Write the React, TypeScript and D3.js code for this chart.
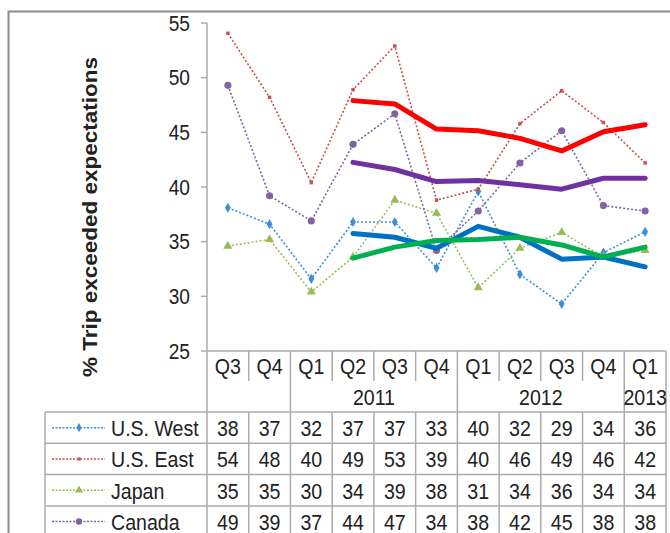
import * as d3 from "d3";

const quarters = ["Q3", "Q4", "Q1", "Q2", "Q3", "Q4", "Q1", "Q2", "Q3", "Q4", "Q1"];
const yearLabels = ["", "", "2011", "2011", "2011", "2011", "2012", "2012", "2012", "2012", "2013"];

const seriesNames = ["U.S. West", "U.S. East", "Japan", "Canada"];
const usWest = [38.1, 36.6, 31.6, 36.8, 36.8, 32.6, 39.6, 32.0, 29.3, 34.0, 35.9];
const usEast = [54.06, 48.2, 40.4, 48.9, 52.9, 38.8, 39.8, 45.8, 48.8, 45.9, 42.2];
const japan = [34.6, 35.2, 30.4, 33.6, 38.8, 37.6, 30.8, 34.4, 35.85, 33.6, 34.2];
const canada = [49.3, 39.2, 36.9, 43.9, 46.7, 34.2, 37.8, 42.2, 45.15, 38.3, 37.8];

// 4-period moving average trendlines
const westTrend = [null, null, null, 35.75, 35.4, 34.4, 36.4, 35.4, 33.4, 33.6, 32.7];
const eastTrend = [null, null, null, 47.9, 47.6, 45.3, 45.15, 44.45, 43.3, 45.05, 45.7];
const japanTrend = [null, null, null, 33.5, 34.5, 35.1, 35.2, 35.4, 34.7, 33.6, 34.5];
const canadaTrend = [null, null, null, 42.25, 41.6, 40.5, 40.6, 40.2, 39.8, 40.8, 40.8];

const yTicks = [25, 30, 35, 40, 45, 50, 55];

const seriesValues = [usWest, usEast, japan, canada];
const trendValues = [westTrend, eastTrend, japanTrend, canadaTrend];
const dotColors = ["#3b8fd8", "#c9504d", "#9bbb59", "#8064a2"];
const trendColors = ["#0070c0", "#ff0000", "#00b050", "#7030a0"];
const symbols = [d3.symbolDiamond, d3.symbolSquare, d3.symbolTriangle, d3.symbolCircle];
const symbolSizes = [30, 12, 36, 40];

const W = 670;
const H = 533;
const SX = 0.87; // text in the picture is a bit narrow
const FONT = "'Liberation Sans', Arial, sans-serif";
const GRID = "#ababab";
const TEXT = "#222";

const plotLeft = 207;
const plotRight = 666;
const headerTop = 351;
const qRowBottom = 381;
const headerBottom = 412;
const rowH = 31.3;
const legendLeft = 45;

const T = ({ x, y, children, anchor = "middle", size = 22.5, weight = "normal" }: any) => (
  <text
    transform={`translate(${x},${y}) scale(${SX},1)`}
    textAnchor={anchor}
    fontSize={size}
    fontWeight={weight}
    fontFamily={FONT}
    fill={TEXT}
  >
    {children}
  </text>
);

export default function App() {
  const x = d3.scaleBand<number>().domain(d3.range(quarters.length)).range([plotLeft, plotRight]);
  const y = d3.scaleLinear().domain([25, 55]).range([headerTop, 23]);
  const cx = (i: number) => (x(i) || 0) + x.bandwidth() / 2;

  const line = d3
    .line<number | null>()
    .defined((d) => d != null)
    .x((_, i) => cx(i))
    .y((d) => y(d as number));

  // year groups from consecutive labels
  const groups: { label: string; start: number; end: number }[] = [];
  yearLabels.forEach((lab, i) => {
    const g = groups[groups.length - 1];
    if (g && g.label === lab) g.end = i + 1;
    else groups.push({ label: lab, start: i, end: i + 1 });
  });
  const groupStarts = new Set(groups.map((g) => g.start));

  const fmt = d3.format(".0f");
  const tableTop = headerBottom;
  const rows = seriesNames.length;

  return (
    <svg width={W} height={H} style={{ position: "absolute", left: 0, top: 0, background: "#fff" }}>
      {/* outer frame */}
      <path d={`M8.5,${H} V11.5 H${W}`} fill="none" stroke="#8a8a8a" strokeWidth={2} />

      {/* y axis */}
      <line x1={plotLeft} x2={plotLeft} y1={y(55)} y2={tableTop + rows * rowH + 10} stroke={GRID} strokeWidth={1.5} />
      {yTicks.map((t) => (
        <g key={t}>
          <line x1={plotLeft - 6} x2={plotLeft} y1={y(t)} y2={y(t)} stroke={GRID} strokeWidth={1.5} />
          <T x={plotLeft - 17} y={y(t) + 7.5} anchor="end" size={22}>
            {t}
          </T>
        </g>
      ))}
      <text
        transform={`translate(97,217) scale(${SX},1) rotate(-90)`}
        textAnchor="middle"
        fontSize={22.5}
        fontWeight="bold"
        fontFamily={FONT}
        fill={TEXT}
      >
        % Trip exceeded expectations
      </text>

      {/* header */}
      <line x1={plotLeft} x2={plotRight} y1={headerTop} y2={headerTop} stroke={GRID} strokeWidth={1.5} />
      {quarters.map((q, i) => (
        <g key={i}>
          <T x={cx(i)} y={qRowBottom - 7}>
            {q}
          </T>
          {i > 0 && (
            <line
              x1={x(i)}
              x2={x(i)}
              y1={headerTop}
              y2={groupStarts.has(i) ? headerBottom : qRowBottom}
              stroke={GRID}
              strokeWidth={1.5}
            />
          )}
        </g>
      ))}
      <line x1={plotRight} x2={plotRight} y1={headerTop} y2={H} stroke={GRID} strokeWidth={1.5} />
      {groups.map((g) => (
        <T key={g.start} x={((x(g.start) || 0) + (x(g.end - 1) || 0) + x.bandwidth()) / 2} y={headerBottom - 7}>
          {g.label}
        </T>
      ))}

      {/* table grid */}
      {d3.range(rows + 1).map((r) => (
        <line
          key={r}
          x1={legendLeft}
          x2={plotRight}
          y1={tableTop + r * rowH}
          y2={tableTop + r * rowH}
          stroke={GRID}
          strokeWidth={1.5}
        />
      ))}
      <line x1={legendLeft} x2={legendLeft} y1={tableTop} y2={H} stroke={GRID} strokeWidth={1.5} />
      {quarters.map((_, i) =>
        i > 0 ? (
          <line key={i} x1={x(i)} x2={x(i)} y1={tableTop} y2={H} stroke={GRID} strokeWidth={1.5} />
        ) : null
      )}

      {/* table rows */}
      {seriesNames.map((name, s) => {
        const rc = tableTop + s * rowH + rowH / 2;
        return (
          <g key={name}>
            <line x1={52} x2={105} y1={rc} y2={rc} stroke={dotColors[s]} strokeWidth={1.5} strokeDasharray="2,1.5" />
            <path
              d={d3.symbol().type(symbols[s]).size(symbolSizes[s] * 0.8)() || ""}
              transform={`translate(79,${rc})`}
              fill={dotColors[s]}
            />
            <T x={111} y={rc + 8.5} anchor="start">
              {name}
            </T>
            {seriesValues[s].map((v, i) => (
              <T key={i} x={cx(i)} y={rc + 8.5}>
                {fmt(v)}
              </T>
            ))}
          </g>
        );
      })}

      {/* dotted series */}
      {seriesValues.map((vals, s) => (
        <g key={s}>
          <path d={line(vals) || ""} fill="none" stroke={dotColors[s]} strokeWidth={1.6} strokeDasharray="2,2" />
          {vals.map((v, i) => (
            <path
              key={i}
              d={d3.symbol().type(symbols[s]).size(symbolSizes[s])() || ""}
              transform={`translate(${cx(i)},${y(v)})`}
              fill={dotColors[s]}
            />
          ))}
        </g>
      ))}

      {/* trendlines */}
      {trendValues.map((vals, s) => (
        <path
          key={s}
          d={line(vals) || ""}
          fill="none"
          stroke={trendColors[s]}
          strokeWidth={5}
          strokeLinejoin="round"
          strokeLinecap="round"
        />
      ))}
    </svg>
  );
}
